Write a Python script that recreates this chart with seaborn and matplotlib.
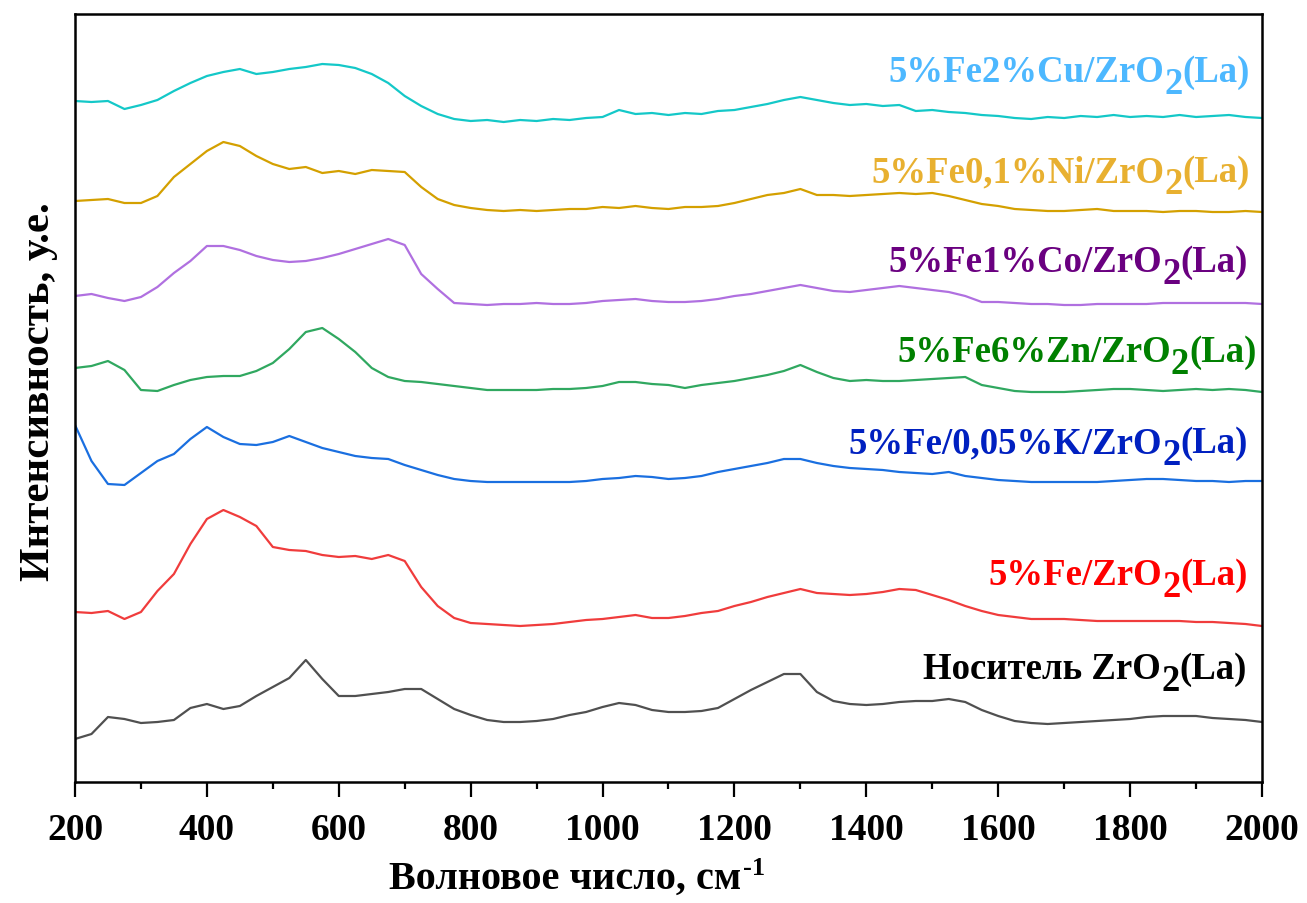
import numpy as np
import pandas as pd
import matplotlib
matplotlib.use("Agg")
import matplotlib.pyplot as plt
from matplotlib.ticker import MultipleLocator
import seaborn as sns

# ---------------- data (intensity in a.u.) ----------------
wavenumber = np.arange(200, 2001, 25)

cu_5fe2 = [698, 697, 698, 690, 694, 699, 708, 716, 723, 727,
           730, 725, 727, 730, 732, 735, 734, 731, 725, 716,
           703, 693, 685, 680, 678, 679, 677, 679, 678, 680,
           679, 681, 682, 689, 685, 686, 684, 686, 685, 688,
           689, 692, 695, 699, 702, 699, 696, 694, 695, 693,
           694, 688, 689, 687, 686, 684, 683, 681, 680, 682,
           681, 683, 682, 684, 682, 683, 682, 684, 682, 683,
           684, 682, 681]

ni_5fe01 = [598, 599, 600, 596, 596, 603, 622, 635, 648, 657,
            653, 643, 635, 630, 632, 626, 628, 625, 629, 628,
            627, 612, 600, 594, 591, 589, 588, 589, 588, 589,
            590, 590, 592, 591, 593, 591, 590, 592, 592, 593,
            596, 600, 604, 606, 610, 604, 604, 603, 604, 605,
            606, 605, 606, 603, 599, 595, 593, 590, 589, 588,
            588, 589, 590, 588, 588, 588, 587, 588, 588, 587,
            587, 588, 587]

co_5fe1 = [503, 505, 501, 498, 502, 512, 526, 538, 553, 553,
           549, 543, 539, 537, 538, 541, 545, 550, 555, 560,
           554, 525, 510, 496, 495, 494, 495, 495, 496, 495,
           495, 496, 498, 499, 500, 498, 497, 497, 498, 500,
           503, 505, 508, 511, 514, 511, 508, 507, 509, 511,
           513, 511, 509, 507, 503, 497, 497, 496, 495, 495,
           494, 494, 495, 495, 495, 495, 496, 496, 496, 496,
           496, 496, 495]

zn_5fe6 = [431, 433, 438, 429, 409, 408, 414, 419, 422, 423,
           423, 428, 436, 450, 467, 471, 460, 447, 431, 422,
           418, 417, 415, 413, 411, 409, 409, 409, 409, 410,
           410, 411, 413, 417, 417, 415, 414, 411, 414, 416,
           418, 421, 424, 428, 434, 427, 421, 418, 419, 418,
           418, 419, 420, 421, 422, 414, 411, 408, 407, 407,
           407, 408, 409, 410, 410, 409, 408, 409, 410, 409,
           410, 409, 407]

k_5fe005 = [374, 338, 315, 314, 326, 338, 345, 360, 372, 362,
            355, 354, 357, 363, 357, 351, 347, 343, 341, 340,
            334, 329, 324, 320, 318, 317, 317, 317, 317, 317,
            317, 318, 320, 321, 323, 322, 320, 321, 323, 327,
            330, 333, 336, 340, 340, 336, 333, 331, 330, 329,
            327, 326, 325, 327, 323, 321, 319, 318, 317, 317,
            317, 317, 317, 318, 319, 320, 320, 319, 318, 318,
            317, 318, 318]

fe5 = [187, 186, 188, 180, 187, 208, 225, 255, 280, 289,
       282, 273, 252, 249, 248, 244, 242, 243, 240, 244,
       238, 212, 193, 181, 176, 175, 174, 173, 174, 175,
       177, 179, 180, 182, 184, 181, 181, 183, 186, 188,
       193, 197, 202, 206, 210, 206, 205, 204, 205, 207,
       210, 209, 204, 199, 193, 188, 184, 182, 180, 180,
       180, 179, 178, 178, 178, 178, 178, 178, 177, 177,
       176, 175, 173]

support = [60, 65, 82, 80, 76, 77, 79, 91, 95, 90,
           93, 103, 112, 121, 139, 120, 103, 103, 105, 107,
           110, 110, 100, 90, 84, 79, 77, 77, 78, 80,
           84, 87, 92, 96, 94, 89, 87, 87, 88, 91,
           100, 109, 117, 125, 125, 107, 98, 95, 94, 95,
           97, 98, 98, 100, 97, 89, 83, 78, 76, 75,
           76, 77, 78, 79, 80, 82, 83, 83, 83, 81,
           80, 79, 77]

series_values = [cu_5fe2, ni_5fe01, co_5fe1, zn_5fe6, k_5fe005, fe5, support]
label_main = ["5%Fe2%Cu/ZrO", "5%Fe0,1%Ni/ZrO", "5%Fe1%Co/ZrO",
              "5%Fe6%Zn/ZrO", "5%Fe/0,05%K/ZrO", "5%Fe/ZrO", "Носитель ZrO"]
label_sub = "2"
label_tail = "(La)"

line_colors = ["#14C8C8", "#D4A000", "#B070E0", "#30A860", "#1A6FE0", "#F03C3C", "#505050"]
text_colors = ["#4DB8FF", "#E8B030", "#6A0080", "#008000", "#0020C0", "#FF0000", "#000000"]
label_x = [1982, 1982, 1979, 1992, 1979, 1979, 1977]
label_y = [710, 610, 520, 430, 339, 207, 113]

# ---------------- style ----------------
sns.set_style("ticks")
plt.rcParams["font.family"] = ["Liberation Serif", "DejaVu Serif"]
plt.rcParams["font.weight"] = "bold"
plt.rcParams["text.color"] = "black"
plt.rcParams["axes.labelcolor"] = "black"
plt.rcParams["xtick.color"] = "black"
plt.rcParams["ytick.color"] = "black"
plt.rcParams["axes.edgecolor"] = "black"

W, H = 1307, 904
fig = plt.figure(figsize=(W / 100, H / 100), dpi=100)
ax = fig.add_axes([75 / W, 1 - 783 / H, (1262 - 75) / W, (783 - 15) / H])

df = pd.DataFrame({"x": np.tile(wavenumber, len(series_values)),
                   "y": np.concatenate(series_values),
                   "s": np.repeat(label_main, len(wavenumber))})

for name, col in zip(label_main, line_colors):
    sub = df[df["s"] == name]
    sns.lineplot(data=sub, x="x", y="y", color=col, lw=1.6, ax=ax,
                 estimator=None, legend=False)

ax.set_xlim(200, 2000)
ax.set_ylim(17, 785)
ax.set_yticks([])
ax.set_xticks(np.arange(200, 2001, 200))
ax.xaxis.set_minor_locator(MultipleLocator(100))
ax.tick_params(axis="x", which="major", length=10.5, width=1.6, direction="out",
               labelsize=27, pad=11, colors="black")
ax.tick_params(axis="x", which="minor", length=5, width=1.6, direction="out",
               colors="black")
for lab in ax.get_xticklabels():
    lab.set_fontweight("bold")
    lab.set_color("black")
for sp in ax.spines.values():
    sp.set_visible(True)
    sp.set_linewidth(1.8)
    sp.set_color("black")

ax.set_xlabel("Волновое число, см", fontsize=29, fontweight="bold", color="black")
ax.xaxis.set_label_coords((565 - 75) / 1187, (783 - 861) / 768)
xl = ax.xaxis.label
ax.annotate("-1", xy=(1, 1), xycoords=xl, xytext=(1, 3), textcoords="offset points",
            ha="left", va="top", fontsize=19, fontweight="bold", color="black")
ax.set_ylabel("Интенсивность, у.е.", fontsize=31, fontweight="bold", color="black")
ax.yaxis.set_label_coords((58 - 75) / 1187, (783 - 392) / 768)

fs = 26.5
for main, tcol, lx, ly in zip(label_main, text_colors, label_x, label_y):
    t3 = ax.text(lx, ly, label_tail, ha="right", va="bottom", fontsize=fs,
                 fontweight="bold", color=tcol)
    t2 = ax.annotate(label_sub, xy=(0, 0), xycoords=t3, xytext=(0, -8.5),
                     textcoords="offset points", ha="right", va="bottom",
                     fontsize=fs, fontweight="bold", color=tcol)
    ax.annotate(main, xy=(0, 0), xycoords=(t2, t3), ha="right", va="bottom",
                fontsize=fs, fontweight="bold", color=tcol)

fig.savefig("out.png", dpi=100)
